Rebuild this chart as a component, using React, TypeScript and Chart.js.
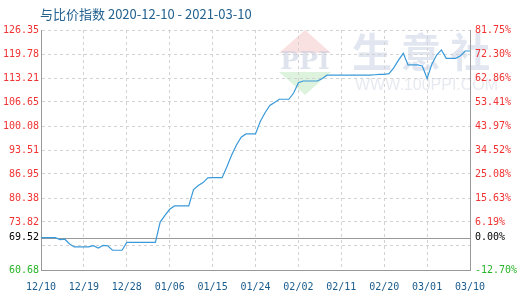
import React, { useEffect, useRef } from 'react';
import { Chart, registerables } from 'chart.js';

Chart.register(...registerables);

const chartTitle = '与比价指数 2020-12-10 - 2021-03-10';
const startDate = '2020-12-10';
const dayCount = 91;
const tickEvery = 9;

const values = [
  69.52, 69.52, 69.52, 69.52, 68.98, 69.1, 67.8, 67.0, 67.0, 67.0,
  67.0, 67.35, 66.7, 67.4, 67.3, 66.08, 66.08, 66.08, 68.25, 68.25,
  68.25, 68.25, 68.25, 68.25, 68.25, 73.8, 75.6, 77.3, 78.2, 78.2,
  78.2, 78.2, 82.7, 83.8, 84.6, 85.9, 85.95, 85.95, 85.95, 88.95,
  92.15, 94.9, 97.0, 97.9, 97.9, 97.9, 101.3, 103.7, 105.7, 106.5,
  107.4, 107.4, 107.4, 109.1, 111.9, 112.4, 112.4, 112.4, 112.4, 113.1,
  114.0, 114.0, 114.0, 114.0, 114.0, 114.0, 114.0, 114.0, 114.0, 114.0,
  114.1, 114.2, 114.2, 114.4, 116.0, 118.1, 119.97, 116.8, 116.8, 116.8,
  116.5, 113.1, 117.0, 119.5, 120.9, 118.6, 118.6, 118.6, 119.3, 120.6,
  120.6,
];

const baseValue = 69.52;
const leftTickLabels = ['60.68', '67.25', '69.52', '73.82', '80.38', '86.95', '93.51', '100.08', '106.65', '113.21', '119.78', '126.35'];
const rightTickLabels = ['-12.70%', '-3.27%', '0.00%', '6.19%', '15.63%', '25.08%', '34.52%', '43.97%', '53.41%', '62.86%', '72.30%', '81.75%'];
const hiddenTickLabels = ['67.25'];
const yMin = 60.68;
const yMax = 126.35;

function makeDates(): string[] {
  const [y, m, d] = startDate.split('-').map(Number);
  const out: string[] = [];
  for (let i = 0; i < dayCount; i++) {
    const dt = new Date(Date.UTC(y, m - 1, d + i));
    const mm = String(dt.getUTCMonth() + 1).padStart(2, '0');
    const dd = String(dt.getUTCDate()).padStart(2, '0');
    out.push(`${mm}/${dd}`);
  }
  return out;
}

const tickValues = leftTickLabels.map((s) => parseFloat(s));

function tickColor(v: number) {
  if (Math.abs(v - baseValue) < 1e-6) return '#000000';
  return v > baseValue ? '#f03232' : '#28b428';
}

const monoFont = { family: '"DejaVu Sans Mono", monospace', size: 10 };

const decorPlugin = {
  id: 'decor',
  beforeDraw(chart: any) {
    const ctx = chart.ctx;
    ctx.save();
    ctx.fillStyle = '#ffffff';
    ctx.fillRect(0, 0, chart.width, chart.height);
    // watermark logo
    ctx.fillStyle = 'rgba(240,170,170,0.35)';
    ctx.beginPath();
    ctx.moveTo(305, 30);
    ctx.lineTo(331, 53);
    ctx.lineTo(279, 53);
    ctx.closePath();
    ctx.fill();
    ctx.fillStyle = 'rgba(160,220,160,0.35)';
    ctx.beginPath();
    ctx.moveTo(279, 72);
    ctx.lineTo(331, 72);
    ctx.lineTo(305, 95);
    ctx.closePath();
    ctx.fill();
    ctx.fillStyle = 'rgba(190,200,220,0.5)';
    ctx.font = 'bold 25px "DejaVu Serif", serif';
    ctx.textAlign = 'center';
    ctx.textBaseline = 'middle';
    ctx.fillText('PPI', 305, 62);
    ctx.fillStyle = 'rgba(205,213,230,0.6)';
    ctx.font = 'bold 40px "Noto Sans CJK SC", sans-serif';
    ctx.textAlign = 'left';
    ctx.fillText('生 意 社', 352, 52);
    ctx.fillStyle = 'rgba(215,220,230,0.6)';
    ctx.font = '16px "Liberation Sans", sans-serif';
    ctx.fillText('WWW.100PPI.COM', 355, 86);
    ctx.restore();
  },
  beforeDatasetsDraw(chart: any) {
    const ctx = chart.ctx;
    const area = chart.chartArea;
    const y = Math.round(chart.scales.y.getPixelForValue(baseValue)) + 0.5;
    ctx.save();
    ctx.strokeStyle = '#999999';
    ctx.lineWidth = 1;
    ctx.beginPath();
    ctx.moveTo(area.left, y);
    ctx.lineTo(area.right, y);
    ctx.stroke();
    ctx.restore();
  },
  afterDraw(chart: any) {
    const ctx = chart.ctx;
    ctx.save();
    ctx.fillStyle = '#23618f';
    ctx.font = '13px "Noto Sans CJK SC", sans-serif';
    ctx.textBaseline = 'middle';
    ctx.textAlign = 'left';
    ctx.fillText(chartTitle, 40, 14);
    ctx.restore();
  },
};

export default function App() {
  const ref = useRef<HTMLCanvasElement | null>(null);

  useEffect(() => {
    if (!ref.current) return;
    const labels = makeDates();
    const chart = new Chart(ref.current, {
      type: 'line',
      data: {
        labels,
        datasets: [
          {
            data: values,
            borderColor: '#3a9ad9',
            borderWidth: 1.2,
            pointRadius: 0,
            tension: 0,
            fill: false,
          },
        ],
      },
      options: {
        animation: false,
        responsive: false,
        maintainAspectRatio: false,
        layout: { padding: { top: 30, left: 0, right: 0, bottom: 0 } },
        plugins: {
          legend: { display: false },
          title: { display: false },
          tooltip: { enabled: false },
        },
        scales: {
          x: {
            type: 'category',
            offset: false,
            afterBuildTicks: (scale: any) => {
              scale.ticks = scale.ticks.filter((_t: any, i: number) => i % tickEvery === 0);
            },
            afterFit: (scale: any) => {
              scale.height = 30;
            },
            grid: { color: '#d2d2d2', drawTicks: false, lineWidth: 1 },
            border: { color: '#999999', dash: [3, 3] },
            ticks: {
              autoSkip: false,
              maxRotation: 0,
              padding: 11,
              color: '#1a5c8c',
              font: monoFont,
            },
          },
          y: {
            type: 'linear',
            position: 'left',
            min: yMin,
            max: yMax,
            afterBuildTicks: (scale: any) => {
              scale.ticks = tickValues.map((v) => ({ value: v }));
            },
            afterFit: (scale: any) => {
              scale.width = 41;
            },
            grid: {
              drawTicks: false,
              color: (ctx: any) =>
                ctx.tick && Math.abs(ctx.tick.value - baseValue) < 1e-6 ? 'rgba(0,0,0,0)' : '#d2d2d2',
            },
            border: { color: '#999999', dash: [3, 3] },
            ticks: {
              padding: 2,
              font: monoFont,
              color: (ctx: any) => tickColor(ctx.tick ? ctx.tick.value : 0),
              callback: (_v: any, i: number) =>
                hiddenTickLabels.includes(leftTickLabels[i]) ? '' : leftTickLabels[i],
            },
          },
          y2: {
            type: 'linear',
            position: 'right',
            min: yMin,
            max: yMax,
            afterBuildTicks: (scale: any) => {
              scale.ticks = tickValues.map((v) => ({ value: v }));
            },
            afterFit: (scale: any) => {
              scale.width = 50;
            },
            grid: { drawOnChartArea: false, drawTicks: false },
            border: { color: '#999999' },
            ticks: {
              padding: 5,
              font: monoFont,
              color: (ctx: any) => tickColor(ctx.tick ? ctx.tick.value : 0),
              callback: (_v: any, i: number) =>
                hiddenTickLabels.includes(leftTickLabels[i]) ? '' : rightTickLabels[i],
            },
          },
        },
      },
      plugins: [decorPlugin],
    } as any);
    return () => chart.destroy();
  }, []);

  return (
    <div style={{ position: 'fixed', left: 0, top: 0, width: 520, height: 300 }}>
      <canvas ref={ref} width={520} height={300} style={{ width: 520, height: 300 }} />
    </div>
  );
}
